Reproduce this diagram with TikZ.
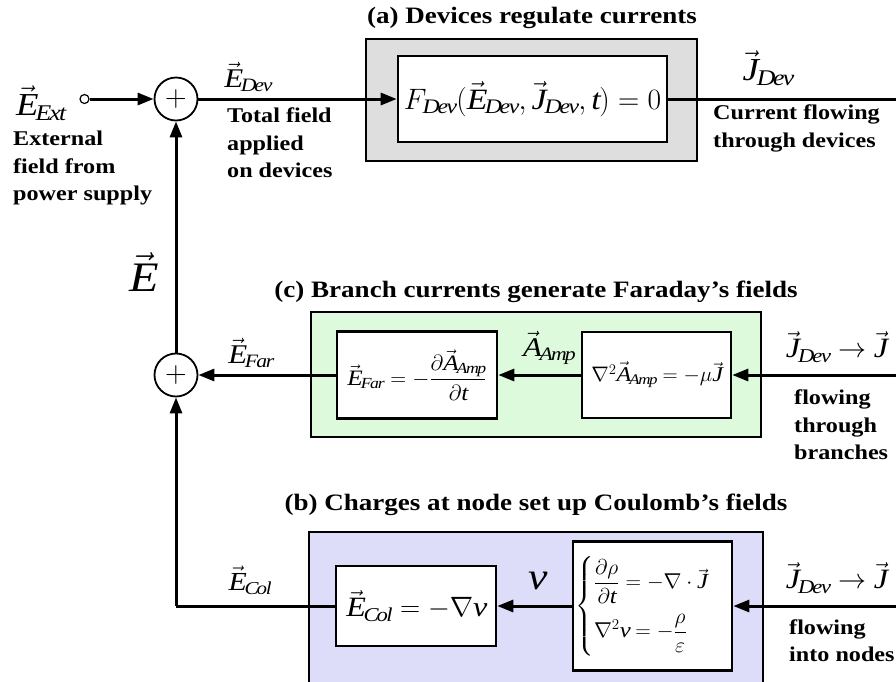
\RequirePackage{fix-cm}
\documentclass[tikz,border=0pt]{standalone}
\usepackage{amsmath}
\usepackage{fontspec}
\setmainfont[FakeStretch=1.15]{Liberation Serif}
\usetikzlibrary{arrows.meta,positioning}
\definecolor{devfill}{RGB}{222,222,222}
\definecolor{farfill}{RGB}{221,250,221}
\definecolor{colfill}{RGB}{221,221,250}
\newcommand{\sz}[2]{\fontsize{#1}{#2}\selectfont}
\newcommand{\vi}[1]{\vec{\mathit{#1}}}

\begin{document}
\begin{tikzpicture}[x=1pt,y=-1pt, every node/.style={inner sep=0pt},
  sum/.style={circle,draw,line width=1.8pt,minimum size=43pt,font=\sz{30}{30}},
  panel/.style={draw,line width=1.5pt},
  eqbox/.style={draw,fill=white,line width=2.6pt},
  ttl/.style={font=\sz{23.5}{28}\bfseries},
  note/.style={font=\sz{21}{27.5}\bfseries,align=left,anchor=north west},
  flow/.style={line width=3pt,-{Triangle[length=16pt,width=12pt]}},
  wire/.style={line width=3pt}]
\clip (0,0) rectangle (896,681);

% (a) devices
\node[ttl] (devttl) at (532,18) {(a) Devices regulate currents};
\node[panel,fill=devfill,minimum width=331pt,minimum height=122pt] (devpanel) at (531.5,100) {};
\node[eqbox,minimum width=269pt,minimum height=86pt] (devbox) at (532.5,99)
  {\sz{29.5}{33}$F_{\mathit{Dev}}(\vi{E}_{\mathit{Dev}},\vi{J}_{\mathit{Dev}},\mathit{t})=0$};
\node[sum] (sumtop) at (176,99) {$+$};
\node[circle,draw,line width=1.2pt,minimum size=9pt] (ext) at (84.5,99) {};
\coordinate (jdevout) at (896,99);
\draw[flow] (ext) -- (sumtop);
\draw[flow] (sumtop) -- (devbox);
\draw[wire] (devbox) -- (jdevout);
\node (eext) at (41,103) {\sz{32}{32}$\vi{E}_{\mathit{Ext}}$};
\node[note] (extnote) at (13,131) {External\\field from\\power supply};
\node (edev) at (248,77) {\sz{27}{27}$\vi{E}_{\mathit{Dev}}$};
\node[note] (devnote) at (227,108) {Total field\\applied\\on devices};
\node (jdev) at (768,68) {\sz{32}{32}$\vi{J}_{\mathit{Dev}}$};
\node[note] (jnote) at (713,105) {Current flowing\\through devices};
\node (etot) at (142,272) {\sz{42}{42}$\vi{E}$};

% (c) branches
\node[ttl] (farttl) at (536,292) {(c) Branch currents generate Faraday's fields};
\node[panel,fill=farfill,minimum width=450pt,minimum height=125pt] (farpanel) at (536,374.5) {};
\node[eqbox,minimum width=160pt,minimum height=87pt] (farbox) at (417,375)
  {\sz{22}{26}$\vi{E}_{\mathit{Far}}=-\dfrac{\partial\vi{A}_{\mathit{Amp}}}{\partial \mathit{t}}$};
\node[eqbox,minimum width=149pt,minimum height=86pt] (ampbox) at (656.5,375)
  {\sz{21}{25}$\nabla^2\vi{A}_{\mathit{Amp}}=-\mu\vi{J}$};
\node[sum] (summid) at (176,375) {$+$};
\coordinate (jbrin) at (896,375);
\draw[flow] (jbrin) -- (ampbox);
\draw[flow] (ampbox) -- (farbox);
\draw[flow] (farbox) -- (summid);
\draw[flow] (summid) -- (sumtop);
\node (aamp) at (549,348) {\sz{27}{27}$\vi{A}_{\mathit{Amp}}$};
\node (efar) at (251,353) {\sz{27}{27}$\vi{E}_{\mathit{Far}}$};
\node (jbr) at (836,347) {\sz{28}{28}$\vi{J}_{\mathit{Dev}}\rightarrow\vi{J}$};
\node[note] (brnote) at (794,390) {flowing\\through\\branches};

% (b) nodes
\node[ttl] (colttl) at (536,505) {(b) Charges at node set up Coulomb's fields};
\node[panel,fill=colfill,minimum width=454pt,minimum height=160pt] (colpanel) at (536,612) {};
\node[eqbox,minimum width=160pt,minimum height=80pt] (colbox) at (416,606)
  {\sz{28}{28}$\vi{E}_{\mathit{Col}}=-\nabla \mathit{v}$};
\node[eqbox,minimum width=159pt,minimum height=129pt] (casebox) at (652.5,606)
  {\sz{21.5}{25}$\begin{cases}\dfrac{\partial\rho}{\partial \mathit{t}}=-\nabla\cdot\vi{J}\\[16pt]
   \nabla^2\mathit{v}=-\dfrac{\rho}{\varepsilon}\end{cases}$};
\coordinate (jndin) at (896,606);
\coordinate (corner) at (176,606);
\draw[flow] (jndin) -- (casebox);
\draw[flow] (casebox) -- (colbox);
\draw[wire] (colbox) -- (corner);
\draw[flow] (corner) -- (summid);
\node (vpot) at (537,581) {\sz{38}{38}$\mathit{v}$};
\node (ecol) at (250,580) {\sz{26}{26}$\vi{E}_{\mathit{Col}}$};
\node (jnd) at (836,578) {\sz{28}{28}$\vi{J}_{\mathit{Dev}}\rightarrow\vi{J}$};
\node[note] (ndnote) at (789,619) {flowing\\into nodes};
\end{tikzpicture}
\end{document}
